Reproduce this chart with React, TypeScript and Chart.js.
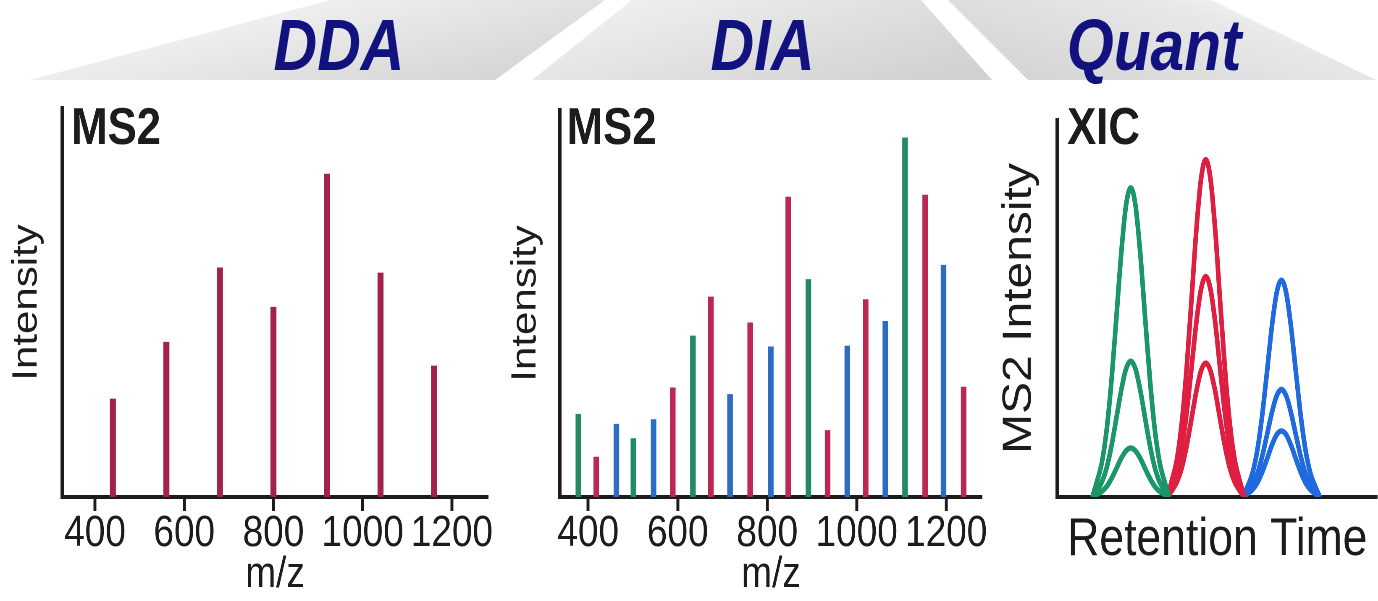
import React, { useEffect, useRef } from 'react';
import { Chart, registerables } from 'chart.js';

Chart.register(...registerables);

const FONT = '"Liberation Sans", Arial, Helvetica, sans-serif';

// ---------------- data ----------------
const HEADERS = ['DDA', 'DIA', 'Quant'];
const PANEL_LABELS = ['MS2', 'MS2', 'XIC'];
const MZ_TICKS = [400, 600, 800, 1000, 1200];

const DDA_MZ = [440, 560, 680, 800, 920, 1040, 1160];
const DDA_INTENSITY = [25.2, 39.8, 58.9, 48.8, 83.0, 57.6, 33.7];

const DIA_MZ = [378, 418, 463, 501, 546, 589, 634, 674, 717, 762, 808, 847, 892, 935, 979, 1020, 1064, 1108, 1153, 1194, 1239];
const DIA_INTENSITY = [21.4, 10.3, 18.8, 15.1, 20.0, 28.2, 41.6, 51.7, 26.5, 45.0, 38.8, 77.5, 56.2, 17.2, 39.0, 51.0, 45.4, 92.8, 78.0, 59.9, 28.4];
const DIA_WINDOW = ['green', 'red', 'blue', 'green', 'blue', 'red', 'green', 'red', 'blue', 'red', 'blue', 'red', 'green', 'red', 'blue', 'red', 'blue', 'green', 'red', 'blue', 'red'];

const XIC_GREEN_RT = [11, 12.5, 14, 15.5, 17, 18.5, 20, 21.5, 23, 24.5, 26, 27.5, 29, 30.5, 32, 33.5, 35];
const XIC_GREEN_HIGH = [0, 4.2, 9.2, 17.9, 31.0, 47.4, 64.3, 77.2, 82, 77.2, 64.3, 47.4, 31.0, 17.9, 9.2, 4.2, 0];
const XIC_GREEN_MID = [0, 1.8, 4.0, 7.8, 13.6, 20.8, 28.2, 33.9, 36, 33.9, 28.2, 20.8, 13.6, 7.8, 4.0, 1.8, 0];
const XIC_GREEN_LOW = [0, 0.7, 1.5, 2.8, 4.9, 7.5, 10.2, 12.2, 13, 12.2, 10.2, 7.5, 4.9, 2.8, 1.5, 0.7, 0];

const XIC_RED_RT = [34.4, 35.9, 37.4, 38.9, 40.4, 41.9, 43.4, 44.9, 46.4, 47.9, 49.4, 50.9, 52.4, 53.9, 55.4, 56.9, 58.4];
const XIC_RED_HIGH = [0, 4.6, 10.0, 19.5, 33.8, 51.7, 70.2, 84.2, 89.5, 84.2, 70.2, 51.7, 33.8, 19.5, 10.0, 4.6, 0];
const XIC_RED_MID = [0, 3.0, 6.6, 12.8, 22.1, 33.8, 45.9, 55.0, 58.5, 55.0, 45.9, 33.8, 22.1, 12.8, 6.6, 3.0, 0];
const XIC_RED_LOW = [0, 1.8, 4.0, 7.7, 13.4, 20.5, 27.8, 33.4, 35.5, 33.4, 27.8, 20.5, 13.4, 7.7, 4.0, 1.8, 0];

const XIC_BLUE_RT = [58, 59.5, 61, 62.5, 64, 65.5, 67, 68.5, 70, 71.5, 73, 74.5, 76, 77.5, 79, 80.5, 82];
const XIC_BLUE_HIGH = [0, 2.9, 6.4, 12.5, 21.7, 33.2, 45.1, 54.1, 57.5, 54.1, 45.1, 33.2, 21.7, 12.5, 6.4, 2.9, 0];
const XIC_BLUE_MID = [0, 1.5, 3.2, 6.2, 10.8, 16.5, 22.3, 26.8, 28.5, 26.8, 22.3, 16.5, 10.8, 6.2, 3.2, 1.5, 0];
const XIC_BLUE_LOW = [0, 0.9, 2.0, 3.8, 6.6, 10.1, 13.7, 16.5, 17.5, 16.5, 13.7, 10.1, 6.6, 3.8, 2.0, 0.9, 0];

// ---------------- styles / layout ----------------
const AXIS = '#1c1c1c';
const TEXT = '#1c1c1c';
const NAVY = '#12127e';
const DDA_RED = '#a2224c';
const BAR_COLORS: Record<string, string> = { green: '#238a62', red: '#bb2852', blue: '#2c6cc2' };
const XIC_COLORS = { green: '#1b9669', red: '#df1f42', blue: '#1f6ade' };

const SX = 0.84; // horizontal squeeze of the whole figure
const VW = 1378 / SX;
const H = 601;
const v = (x: number) => x / SX;
const PLOT_BOTTOM = 497;
const XAXIS_H = H - PLOT_BOTTOM;

const BOX1 = { left: 0, width: 620, plotLeft: v(62), plotRight: v(488), plotTop: 108, yTitleC: v(30), dx: 11 };
const BOX2 = { left: 600, width: 600, plotLeft: v(560) - 600, plotRight: v(982) - 600, plotTop: 110, yTitleC: v(529) - 600, dx: 8 };
const BOX3 = { left: 1180, width: VW - 1180, plotLeft: v(1057) - 1180, plotRight: VW - 1180, plotTop: 120, yTitleC: v(1023.3) - 1180, dx: 12 };

const yTitlePad = (center: number, size: number) => center - 0.0935 * size - size / 2;

const panelLabel = {
  id: 'panelLabel',
  afterDraw(chart: any, _args: any, opts: any) {
    const { ctx, chartArea } = chart;
    ctx.save();
    ctx.font = `bold ${opts.size}px ${FONT}`;
    ctx.fillStyle = TEXT;
    ctx.textAlign = 'left';
    ctx.textBaseline = 'alphabetic';
    ctx.fillText(opts.text, chartArea.left + opts.dx, opts.y);
    ctx.restore();
  },
};

function baseOptions(box: any, label: string) {
  return {
    responsive: false,
    animation: false,
    devicePixelRatio: 2,
    events: [],
    layout: { padding: { top: box.plotTop, right: box.width - box.plotRight, bottom: 0, left: 0 } },
    plugins: {
      legend: { display: false },
      tooltip: { enabled: false },
      panelLabel: { text: label, dx: box.dx, y: 144, size: 52 },
    },
  };
}

function yScale(box: any, text: string, size: number) {
  return {
    type: 'linear',
    min: 0,
    max: 100,
    afterFit: (s: any) => { s.width = box.plotLeft; },
    grid: { display: false },
    border: { display: true, color: AXIS, width: 4 },
    ticks: { display: false },
    title: {
      display: true,
      text,
      color: TEXT,
      font: { family: FONT, size, lineHeight: 1 },
      padding: { top: yTitlePad(box.yTitleC, size), bottom: 0 },
    },
  };
}

function mzScale(min: number, max: number) {
  return {
    type: 'linear',
    min,
    max,
    offset: false,
    z: 1,
    afterBuildTicks: (s: any) => { s.ticks = MZ_TICKS.map((value) => ({ value })); },
    afterFit: (s: any) => { s.height = XAXIS_H; },
    grid: { display: true, offset: false, drawOnChartArea: false, drawTicks: true, tickLength: 14, tickWidth: 3.5, tickColor: AXIS },
    border: { display: true, color: AXIS, width: 4 },
    ticks: {
      autoSkip: false,
      maxRotation: 0,
      padding: 1,
      color: TEXT,
      font: { family: FONT, size: 44, lineHeight: 1 },
      callback: (val: any) => String(val),
    },
    title: { display: true, text: 'm/z', color: TEXT, font: { family: FONT, size: 44, lineHeight: 1 }, padding: { top: 0, bottom: 4 } },
  };
}

function ddaConfig(): any {
  return {
    type: 'bar',
    data: {
      datasets: [{
        data: DDA_MZ.map((x, i) => ({ x, y: DDA_INTENSITY[i] })),
        backgroundColor: DDA_RED,
        borderWidth: 0,
        barThickness: 6.5,
      }],
    },
    options: {
      ...baseOptions(BOX1, PANEL_LABELS[0]),
      scales: { x: mzScale(326, 1281), y: yScale(BOX1, 'Intensity', 42) },
    },
    plugins: [panelLabel],
  };
}

function diaConfig(): any {
  return {
    type: 'bar',
    data: {
      datasets: [{
        data: DIA_MZ.map((x, i) => ({ x, y: DIA_INTENSITY[i] })),
        backgroundColor: DIA_WINDOW.map((w) => BAR_COLORS[w]),
        borderWidth: 0,
        barThickness: 6,
      }],
    },
    options: {
      ...baseOptions(BOX2, PANEL_LABELS[1]),
      scales: { x: mzScale(337, 1280), y: yScale(BOX2, 'Intensity', 42) },
    },
    plugins: [panelLabel],
  };
}

function curve(xs: number[], ys: number[], color: string) {
  return {
    data: xs.map((x, i) => ({ x, y: ys[i] })),
    borderColor: color,
    borderWidth: 5.5,
    pointRadius: 0,
    fill: false,
    cubicInterpolationMode: 'monotone',
  };
}

function xicConfig(): any {
  return {
    type: 'line',
    data: {
      datasets: [
        curve(XIC_GREEN_RT, XIC_GREEN_HIGH, XIC_COLORS.green),
        curve(XIC_GREEN_RT, XIC_GREEN_MID, XIC_COLORS.green),
        curve(XIC_GREEN_RT, XIC_GREEN_LOW, XIC_COLORS.green),
        curve(XIC_RED_RT, XIC_RED_HIGH, XIC_COLORS.red),
        curve(XIC_RED_RT, XIC_RED_MID, XIC_COLORS.red),
        curve(XIC_RED_RT, XIC_RED_LOW, XIC_COLORS.red),
        curve(XIC_BLUE_RT, XIC_BLUE_HIGH, XIC_COLORS.blue),
        curve(XIC_BLUE_RT, XIC_BLUE_MID, XIC_COLORS.blue),
        curve(XIC_BLUE_RT, XIC_BLUE_LOW, XIC_COLORS.blue),
      ],
    },
    options: {
      ...baseOptions(BOX3, PANEL_LABELS[2]),
      scales: {
        x: {
          type: 'linear',
          min: 0,
          max: 100,
          z: 1,
          afterFit: (s: any) => { s.height = XAXIS_H; },
          grid: { display: false },
          border: { display: true, color: AXIS, width: 4 },
          ticks: { display: false },
          title: { display: true, text: 'Retention Time', color: TEXT, font: { family: FONT, size: 53, lineHeight: 1 }, padding: { top: 0, bottom: 34 } },
        },
        y: yScale(BOX3, 'MS2 Intensity', 48),
      },
    },
    plugins: [panelLabel],
  };
}

function pts(list: number[][]) {
  return list.map(([x, y]) => `${v(x)},${y}`).join(' ');
}

function Header() {
  const textProps = {
    fontFamily: FONT,
    fontWeight: 'bold' as const,
    fontStyle: 'italic' as const,
    fontSize: 72,
    fill: NAVY,
    textAnchor: 'middle' as const,
  };
  return (
    <svg width={VW} height={100} style={{ position: 'absolute', left: 0, top: 0 }}>
      <defs>
        <linearGradient id="gA" x1="0" y1="0.2" x2="1" y2="0.8">
          <stop offset="0" stopColor="#fbfbfb" />
          <stop offset="0.6" stopColor="#e3e3e3" />
          <stop offset="1" stopColor="#d3d3d3" />
        </linearGradient>
        <linearGradient id="gB" x1="0" y1="0.2" x2="1" y2="0.8">
          <stop offset="0" stopColor="#f1f1f1" />
          <stop offset="1" stopColor="#d1d1d1" />
        </linearGradient>
        <linearGradient id="gC" x1="0" y1="0.8" x2="1" y2="0.2">
          <stop offset="0" stopColor="#d3d3d3" />
          <stop offset="0.7" stopColor="#e8e8e8" />
          <stop offset="1" stopColor="#fbfbfb" />
        </linearGradient>
      </defs>
      <polygon points={pts([[30, 80], [330, 0], [605, 0], [495, 80]])} fill="url(#gA)" />
      <polygon points={pts([[532, 80], [632, 0], [921, 0], [992, 80]])} fill="url(#gB)" />
      <polygon points={pts([[1028, 80], [948, 0], [1211, 0], [1376, 80]])} fill="url(#gC)" />
      <text x={v(339)} y={70} {...textProps}>{HEADERS[0]}</text>
      <text x={v(762.5)} y={70} {...textProps}>{HEADERS[1]}</text>
      <text x={v(1154)} y={70} {...textProps}>{HEADERS[2]}</text>
    </svg>
  );
}

export default function App() {
  const c1 = useRef<HTMLCanvasElement>(null);
  const c2 = useRef<HTMLCanvasElement>(null);
  const c3 = useRef<HTMLCanvasElement>(null);

  useEffect(() => {
    const charts = [
      new Chart(c1.current as HTMLCanvasElement, ddaConfig()),
      new Chart(c2.current as HTMLCanvasElement, diaConfig()),
      new Chart(c3.current as HTMLCanvasElement, xicConfig()),
    ];
    return () => charts.forEach((c) => c.destroy());
  }, []);

  return (
    <div style={{ position: 'fixed', left: 0, top: 0, width: 1378, height: H, overflow: 'hidden', background: '#ffffff' }}>
      <div style={{ position: 'absolute', left: 0, top: 0, width: VW, height: H, transform: `scaleX(${SX})`, transformOrigin: '0 0' }}>
        <Header />
        <canvas ref={c1} width={BOX1.width} height={H} style={{ position: 'absolute', left: BOX1.left, top: 0 }} />
        <canvas ref={c2} width={BOX2.width} height={H} style={{ position: 'absolute', left: BOX2.left, top: 0 }} />
        <canvas ref={c3} width={BOX3.width} height={H} style={{ position: 'absolute', left: BOX3.left, top: 0 }} />
      </div>
    </div>
  );
}
